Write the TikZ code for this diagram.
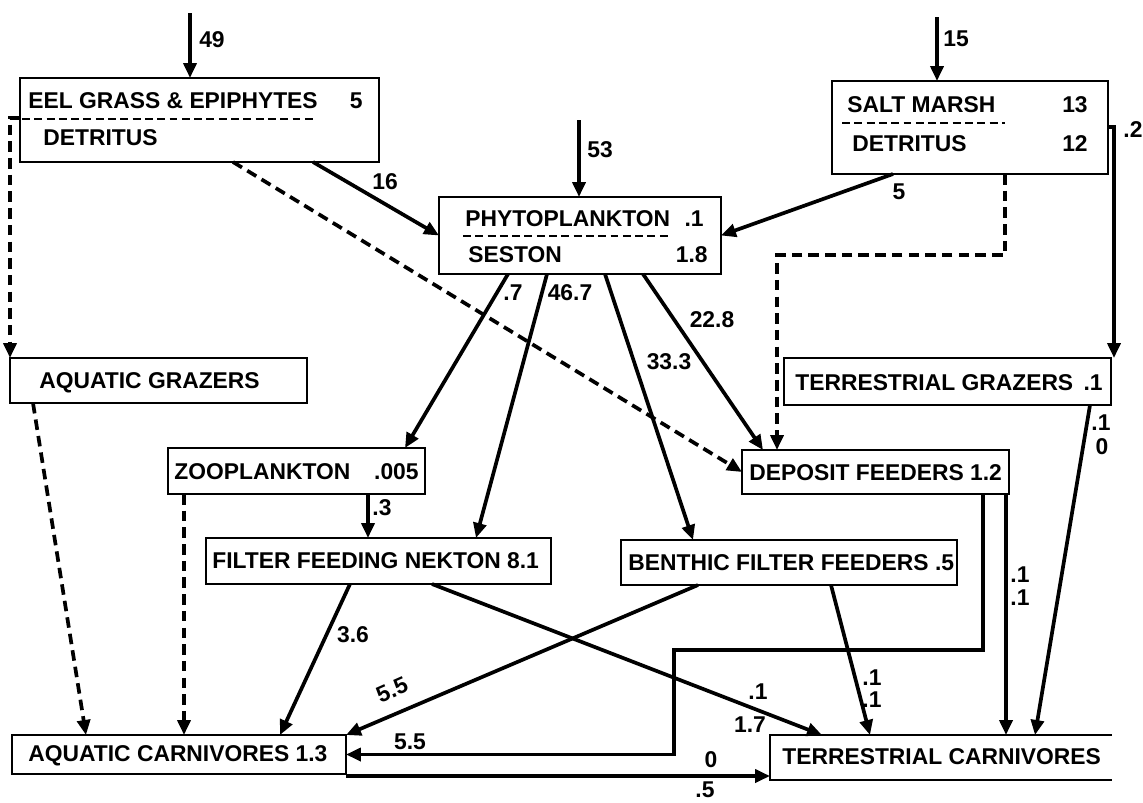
\documentclass[tikz,border=0pt]{standalone}
\usepackage{fontspec}
\setmainfont{Liberation Sans}
\usepackage{tikz}
\usetikzlibrary{arrows.meta}
\tikzset{
  box/.style={draw, line width=1.5pt, inner sep=0pt, outer sep=0pt},
  boxline/.style={line width=1.5pt},
  sepline/.style={line width=1.1pt, dash pattern=on 4.5pt off 2.5pt},
  txt/.style={font=\fontsize{13}{15}\selectfont\bfseries, anchor=west, inner sep=0pt},
  num/.style={font=\fontsize{13}{15}\selectfont\bfseries, inner sep=0pt},
  flow/.style={-{Triangle[length=3mm,width=2.6mm]}, line width=2.1pt},
  dflow/.style={flow, dash pattern=on 6pt off 3.5pt}
}

\begin{document}
\begin{tikzpicture}[x=0.02cm, y=-0.02cm]
  \useasboundingbox (0,0) rectangle (1143,802);

  \node[box, minimum width=7.18cm, minimum height=1.68cm] (eel) at (199.5,120) {};
  \node[box, minimum width=5.52cm, minimum height=1.86cm] (salt) at (970,127.5) {};
  \node[box, minimum width=5.64cm, minimum height=1.54cm] (phyto) at (580,235.5) {};
  \node[box, minimum width=5.94cm, minimum height=0.90cm] (ag) at (158.5,380.5) {};
  \node[box, minimum width=6.54cm, minimum height=0.94cm] (tg) at (947.5,381.5) {};
  \node[box, minimum width=5.14cm, minimum height=0.92cm] (zoo) at (296.5,471) {};
  \node[box, minimum width=5.34cm, minimum height=0.88cm] (df) at (875.5,472) {};
  \node[box, minimum width=6.90cm, minimum height=0.92cm] (ffn) at (378.5,561) {};
  \node[box, minimum width=6.72cm, minimum height=0.90cm] (bff) at (789,562.5) {};
  \node[box, minimum width=6.68cm, minimum height=0.78cm] (ac) at (179,754.5) {};
  \node[inner sep=0pt, outer sep=0pt, minimum width=6.84cm, minimum height=0.90cm] (tc) at (941,757.5) {};
  \draw[boxline] (tc.north east) -- (tc.north west) -- (tc.south west) -- (tc.south east);

  \node[txt] (eelA) at (28,101) {EEL GRASS \& EPIPHYTES};
  \node[num, anchor=east] (eelB) at (363,101) {5};
  \draw[sepline] (22,119) -- (313,119);
  \node[txt] (eelC) at (43,137.5) {DETRITUS};

  \node[txt] (saltA) at (847,104.5) {SALT MARSH};
  \node[num, anchor=east] (saltB) at (1088,104.5) {13};
  \draw[sepline] (842,123) -- (1005,123);
  \node[txt] (saltC) at (852,143.5) {DETRITUS};
  \node[num, anchor=east] (saltD) at (1088,143.5) {12};

  \node[txt] (phyA) at (465,218.5) {PHYTOPLANKTON};
  \node[num, anchor=east] (phyB) at (704,218.5) {.1};
  \draw[sepline] (463,236) -- (670,236);
  \node[txt] (phyC) at (468,255) {SESTON};
  \node[num, anchor=east] (phyD) at (708,255) {1.8};

  \node[txt] (agT) at (39,383) {AQUATIC GRAZERS};
  \node[txt] (tgT) at (795,383) {TERRESTRIAL GRAZERS};
  \node[num, anchor=east] (tgN) at (1103,383) {.1};
  \node[txt] (zooT) at (174,472) {ZOOPLANKTON};
  \node[num, anchor=east] (zooN) at (419,472) {.005};
  \node[txt] (dfT) at (749,473) {DEPOSIT FEEDERS 1.2};
  \node[txt] (ffnT) at (212,561) {FILTER FEEDING NEKTON 8.1};
  \node[txt] (bffT) at (628,563) {BENTHIC FILTER FEEDERS .5};
  \node[txt] (acT) at (28,756) {AQUATIC CARNIVORES 1.3};
  \node[txt] (tcT) at (782,757) {TERRESTRIAL CARNIVORES};

  \coordinate (in49) at (190,13);
  \coordinate (in15) at (937,17);
  \coordinate (in53) at (579,120);
  \draw[flow] (in49) -- (in49 |- eel.north);
  \draw[flow] (in15) -- (in15 |- salt.north);
  \draw[flow] (in53) -- (in53 |- phyto.north);

  \draw[flow] (313,0 |- eel.south) -- (phyto.west);
  \draw[dflow] (233,0 |- eel.south) -- (df.west);
  \draw[dflow] (eel.west |- 0,118) -| (10,0 |- ag.north);
  \draw[flow] (893,0 |- salt.south) -- (phyto.east);
  \draw[dflow] (1005,0 |- salt.south) -- (1005,255) -| (777,0 |- df.north);
  \draw[flow] (salt.east |- 0,127) -| (1114,0 |- tg.north);

  \draw[flow] (508,0 |- phyto.south) -- (405,0 |- zoo.north);
  \draw[flow] (547,0 |- phyto.south) -- (476,0 |- ffn.north);
  \draw[flow] (605,0 |- phyto.south) -- (693,0 |- bff.north);
  \draw[flow] (643,0 |- phyto.south) -- (763,0 |- df.north);

  \draw[dflow] (33,0 |- ag.south) -- (86,0 |- ac.north);
  \draw[dflow] (184,0 |- zoo.south) -- (184,0 |- ac.north);
  \draw[flow] (368,0 |- zoo.south) -- (368,0 |- ffn.north);
  \draw[flow] (350,0 |- ffn.south) -- (280,0 |- ac.north);
  \draw[flow] (432,0 |- ffn.south) -- (822,0 |- tc.north);
  \draw[flow] (698,0 |- bff.south) -- (ac.north east);
  \draw[flow] (831,0 |- bff.south) -- (870,0 |- tc.north);
  \draw[flow] (983,0 |- df.south) |- (674,650) |- (ac.east);
  \draw[flow] (1006,0 |- df.south) -- (1006,0 |- tc.north);
  \draw[flow] (1090,0 |- tg.south) -- (1035,0 |- tc.north);
  \draw[flow] (ac.east |- 0,776) -- (tc.west |- 0,776);

  \node[num] (l49) at (212,40) {49};
  \node[num] (l15) at (956,39) {15};
  \node[num] (l53) at (600,150) {53};
  \node[num] (l16) at (385,182) {16};
  \node[num] (l5) at (899,192) {5};
  \node[num] (l2) at (1133,130) {.2};
  \node[num] (l07) at (513,293) {.7};
  \node[num] (l467) at (570,293) {46.7};
  \node[num] (l228) at (712,320) {22.8};
  \node[num] (l333) at (669,362) {33.3};
  \node[num] (l03) at (382,508) {.3};
  \node[num] (ltgA) at (1101,423) {.1};
  \node[num] (ltgB) at (1102,447) {0};
  \node[num] (ldfA) at (1020,575) {.1};
  \node[num] (ldfB) at (1020,598) {.1};
  \node[num] (l36) at (353,635) {3.6};
  \node[num, rotate=24] (l55a) at (392,690) {5.5};
  \node[num] (l55b) at (410,742) {5.5};
  \node[num] (lffA) at (758,692) {.1};
  \node[num] (lffB) at (750,725) {1.7};
  \node[num] (lbfA) at (872,678) {.1};
  \node[num] (lbfB) at (872,700) {.1};
  \node[num] (l0) at (711,760) {0};
  \node[num] (l05) at (705,790) {.5};
\end{tikzpicture}
\end{document}
